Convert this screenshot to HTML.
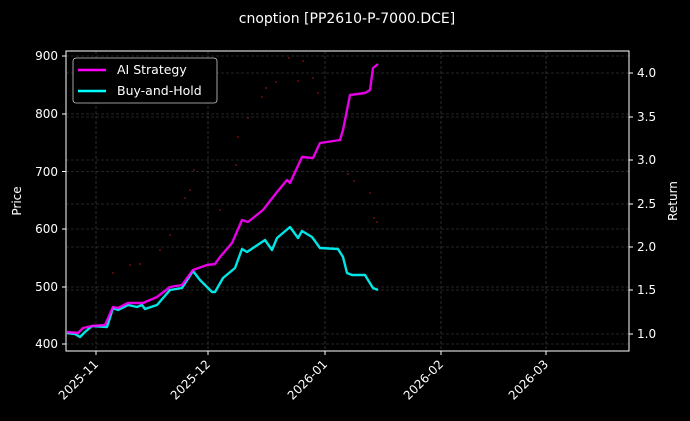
<!DOCTYPE html>
<html><head><style>
html,body{margin:0;padding:0;background:#000;}
svg{display:block;font-family:"DejaVu Sans","Liberation Sans",sans-serif;}
</style></head><body>
<svg width="690" height="421" viewBox="0 0 690 421" xmlns="http://www.w3.org/2000/svg">
<rect width="690" height="421" fill="#000"/>
<text x="347" y="23" fill="#fff" font-size="14" text-anchor="middle">cnoption [PP2610-P-7000.DCE]</text>
<g stroke="#4a4a4a" stroke-width="0.6" stroke-dasharray="3,2">
<line x1="66" x2="629" y1="56" y2="56"/><line x1="66" x2="629" y1="114" y2="114"/><line x1="66" x2="629" y1="171.5" y2="171.5"/><line x1="66" x2="629" y1="229" y2="229"/><line x1="66" x2="629" y1="287" y2="287"/><line x1="66" x2="629" y1="344" y2="344"/>
<line x1="66" x2="629" y1="73" y2="73"/><line x1="66" x2="629" y1="117" y2="117"/><line x1="66" x2="629" y1="160" y2="160"/><line x1="66" x2="629" y1="204" y2="204"/><line x1="66" x2="629" y1="247" y2="247"/><line x1="66" x2="629" y1="290" y2="290"/><line x1="66" x2="629" y1="334" y2="334"/>
<line y1="51" y2="351" x1="96" x2="96"/><line y1="51" y2="351" x1="208" x2="208"/><line y1="51" y2="351" x1="325" x2="325"/><line y1="51" y2="351" x1="441" x2="441"/><line y1="51" y2="351" x1="546" x2="546"/>
</g>
<g fill="#a01010" opacity="0.7">
<circle cx="113" cy="273" r="1"/><circle cx="130" cy="265" r="1"/><circle cx="140" cy="264" r="1"/><circle cx="160" cy="250" r="1"/><circle cx="170" cy="235" r="1"/><circle cx="185" cy="198" r="1"/><circle cx="190" cy="190" r="1"/><circle cx="194" cy="170" r="1"/><circle cx="220" cy="210" r="1"/><circle cx="236" cy="165" r="1"/><circle cx="238" cy="137" r="1"/><circle cx="248" cy="118" r="1"/><circle cx="262" cy="97" r="1"/><circle cx="266" cy="88" r="1"/><circle cx="276" cy="82" r="1"/><circle cx="289" cy="58" r="1"/><circle cx="298" cy="81" r="1"/><circle cx="303" cy="61" r="1"/><circle cx="313" cy="78" r="1"/><circle cx="318" cy="93" r="1"/><circle cx="348" cy="174" r="1"/><circle cx="354" cy="181" r="1"/><circle cx="370" cy="193" r="1"/><circle cx="374" cy="218" r="1"/><circle cx="377" cy="222" r="1"/>
</g>
<polyline fill="none" stroke="#00ffff" stroke-width="2.4" stroke-linejoin="round" opacity="0.9" points="67,333 75,334 80,337 85,332 92,326 107,327 113,308 118,310 128,305 137,307 142,305 145,309 157,305 170,290 182,288 193,271 200,280 212,292 215,292 223,278 235,268 242,249 247,252 265,240 272,250 277,238 290,227 298,238 302,231 312,237 320,248 338,249 343,257 347,273 352,275 365,275 368,280 373,288 378,290"/>
<polyline fill="none" stroke="#ff00ff" stroke-width="2.4" stroke-linejoin="round" opacity="0.9" points="67,332 78,333 83,328 92,326 105,325 113,307 118,308 128,303 143,303 157,297 170,287 182,285 193,270 207,265 215,264 220,257 232,243 242,220 248,222 263,210 277,192 287,180 290,183 302,157 313,158 320,143 340,140 343,130 350,95 365,93 370,90 373,68 378,64"/>
<rect x="66" y="51" width="563" height="300" fill="none" stroke="#fff" stroke-width="1"/>
<g stroke="#fff" stroke-width="1">
<line x1="62" x2="66" y1="56" y2="56"/><line x1="62" x2="66" y1="114" y2="114"/><line x1="62" x2="66" y1="171.5" y2="171.5"/><line x1="62" x2="66" y1="229" y2="229"/><line x1="62" x2="66" y1="287" y2="287"/><line x1="62" x2="66" y1="344" y2="344"/>
<line x1="629" x2="633" y1="73" y2="73"/><line x1="629" x2="633" y1="117" y2="117"/><line x1="629" x2="633" y1="160" y2="160"/><line x1="629" x2="633" y1="204" y2="204"/><line x1="629" x2="633" y1="247" y2="247"/><line x1="629" x2="633" y1="290" y2="290"/><line x1="629" x2="633" y1="334" y2="334"/>
<line y1="351" y2="355" x1="96" x2="96"/><line y1="351" y2="355" x1="208" x2="208"/><line y1="351" y2="355" x1="325" x2="325"/><line y1="351" y2="355" x1="441" x2="441"/><line y1="351" y2="355" x1="546" x2="546"/>
</g>
<g fill="#fff" font-size="12" text-anchor="end">
<text x="58" y="60">900</text><text x="58" y="118">800</text><text x="58" y="176">700</text><text x="58" y="233">600</text><text x="58" y="291">500</text><text x="58" y="348">400</text>
</g>
<g fill="#fff" font-size="12">
<text x="637" y="77">4.0</text><text x="637" y="121">3.5</text><text x="637" y="164">3.0</text><text x="637" y="208">2.5</text><text x="637" y="251">2.0</text><text x="637" y="294">1.5</text><text x="637" y="338">1.0</text>
</g>
<text transform="translate(21,201) rotate(-90)" fill="#fff" font-size="12" text-anchor="middle">Price</text>
<text transform="translate(677,201) rotate(-90)" fill="#fff" font-size="12" text-anchor="middle">Return</text>
<g fill="#fff" font-size="12" text-anchor="end">
<text transform="translate(99,365) rotate(-45)">2025-11</text>
<text transform="translate(211,365) rotate(-45)">2025-12</text>
<text transform="translate(328,365) rotate(-45)">2026-01</text>
<text transform="translate(444,365) rotate(-45)">2026-02</text>
<text transform="translate(549,365) rotate(-45)">2026-03</text>
</g>
<rect x="73" y="58" width="144" height="45" rx="3" fill="#000" stroke="#ccc" stroke-width="0.8"/>
<line x1="78" x2="106" y1="70" y2="70" stroke="#ff00ff" stroke-width="2.5"/>
<line x1="78" x2="106" y1="91" y2="91" stroke="#00ffff" stroke-width="2.5"/>
<text x="117" y="74" fill="#fff" font-size="12.5">AI Strategy</text>
<text x="117" y="95" fill="#fff" font-size="12.5">Buy-and-Hold</text>
</svg>
</body></html>
